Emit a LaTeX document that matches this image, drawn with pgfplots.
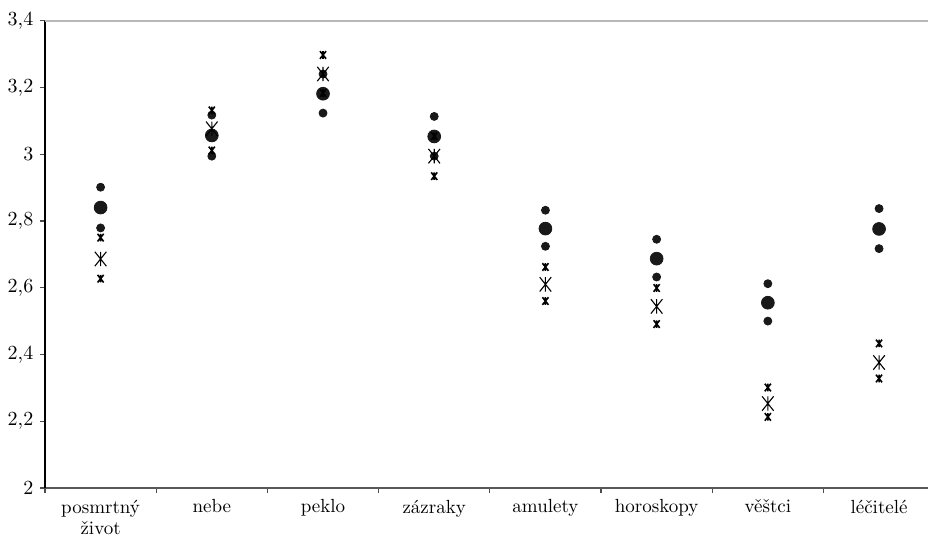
\documentclass[border=0pt]{standalone}
\usepackage{pgfplots}
\pgfplotsset{compat=1.18}
\pgfdeclareplotmark{ast}{%
  \pgfpathmoveto{\pgfqpoint{0pt}{\pgfplotmarksize}}%
  \pgfpathlineto{\pgfqpoint{0pt}{-\pgfplotmarksize}}%
  \pgfpathmoveto{\pgfqpoint{-0.8\pgfplotmarksize}{\pgfplotmarksize}}%
  \pgfpathlineto{\pgfqpoint{0.8\pgfplotmarksize}{-\pgfplotmarksize}}%
  \pgfpathmoveto{\pgfqpoint{0.8\pgfplotmarksize}{\pgfplotmarksize}}%
  \pgfpathlineto{\pgfqpoint{-0.8\pgfplotmarksize}{-\pgfplotmarksize}}%
  \pgfusepathqstroke
}
\begin{document}
\fontsize{9.5}{11.5}\selectfont
\begin{tikzpicture}
\begin{axis}[
  scale only axis,
  width=441.5pt, height=233.7pt,
  xmin=-0.5, xmax=7.44,
  ymin=2, ymax=3.4,
  axis x line*=bottom, axis y line*=left,
  x axis line style={draw=black!65, line width=0.8pt},
  y axis line style={draw=black, line width=0.7pt},
  ytick={2,2.2,...,3.4},
  yticklabel style={font=\fontsize{10}{11}\selectfont, /pgf/number format/use comma, /pgf/number format/fixed, /pgf/number format/precision=1, /pgf/number format/assume math mode=true},
  xtick={0,...,7},
  xticklabels={{posmrtný\\život},nebe,peklo,zázraky,amulety,horoskopy,věštci,léčitelé},
  xticklabel style={align=center, font=\fontsize{9.5}{10.8}\selectfont, yshift=0pt},
  minor xtick={-0.5,0.5,...,6.5},
  tick align=outside,
  tick style={black!70, line width=0.6pt},
  major x tick style={draw=none},
  minor tick length=2.5pt,
  major tick length=2.5pt,
  clip=false,
]
\draw[color=black!28, line width=1pt] (rel axis cs:0,1) -- (rel axis cs:1,1);
% dots: lower / upper (small), mean (large)
\addplot[only marks, mark=*, mark size=2pt, color=black!90] coordinates {
  (0,2.779) (1,2.994) (2,3.123) (3,2.994) (4,2.724) (5,2.632) (6,2.500) (7,2.717)};
\addplot[only marks, mark=*, mark size=2pt, color=black!90] coordinates {
  (0,2.901) (1,3.117) (2,3.240) (3,3.113) (4,2.832) (5,2.745) (6,2.612) (7,2.837)};
\addplot[only marks, mark=*, mark size=3.2pt, color=black!90] coordinates {
  (0,2.840) (1,3.056) (2,3.181) (3,3.053) (4,2.777) (5,2.687) (6,2.555) (7,2.776)};
% asterisks
\addplot[only marks, mark=ast, mark size=1.9pt, color=black, mark options={line width=0.8pt}] coordinates {
  (0,2.627) (1,3.011) (2,3.183) (3,2.934) (4,2.560) (5,2.491) (6,2.213) (7,2.328)};
\addplot[only marks, mark=ast, mark size=1.9pt, color=black, mark options={line width=0.8pt}] coordinates {
  (0,2.750) (1,3.131) (2,3.297) (3,3.054) (4,2.662) (5,2.599) (6,2.301) (7,2.433)};
\addplot[only marks, mark=ast, mark size=3.6pt, color=black, mark options={line width=0.55pt}] coordinates {
  (0,2.686) (1,3.076) (2,3.240) (3,2.994) (4,2.610) (5,2.544) (6,2.253) (7,2.376)};
\end{axis}
\pgfresetboundingbox
\path[use as bounding box] (-22.5pt,-25pt) rectangle (441.5pt,244pt);
\end{tikzpicture}
\end{document}
